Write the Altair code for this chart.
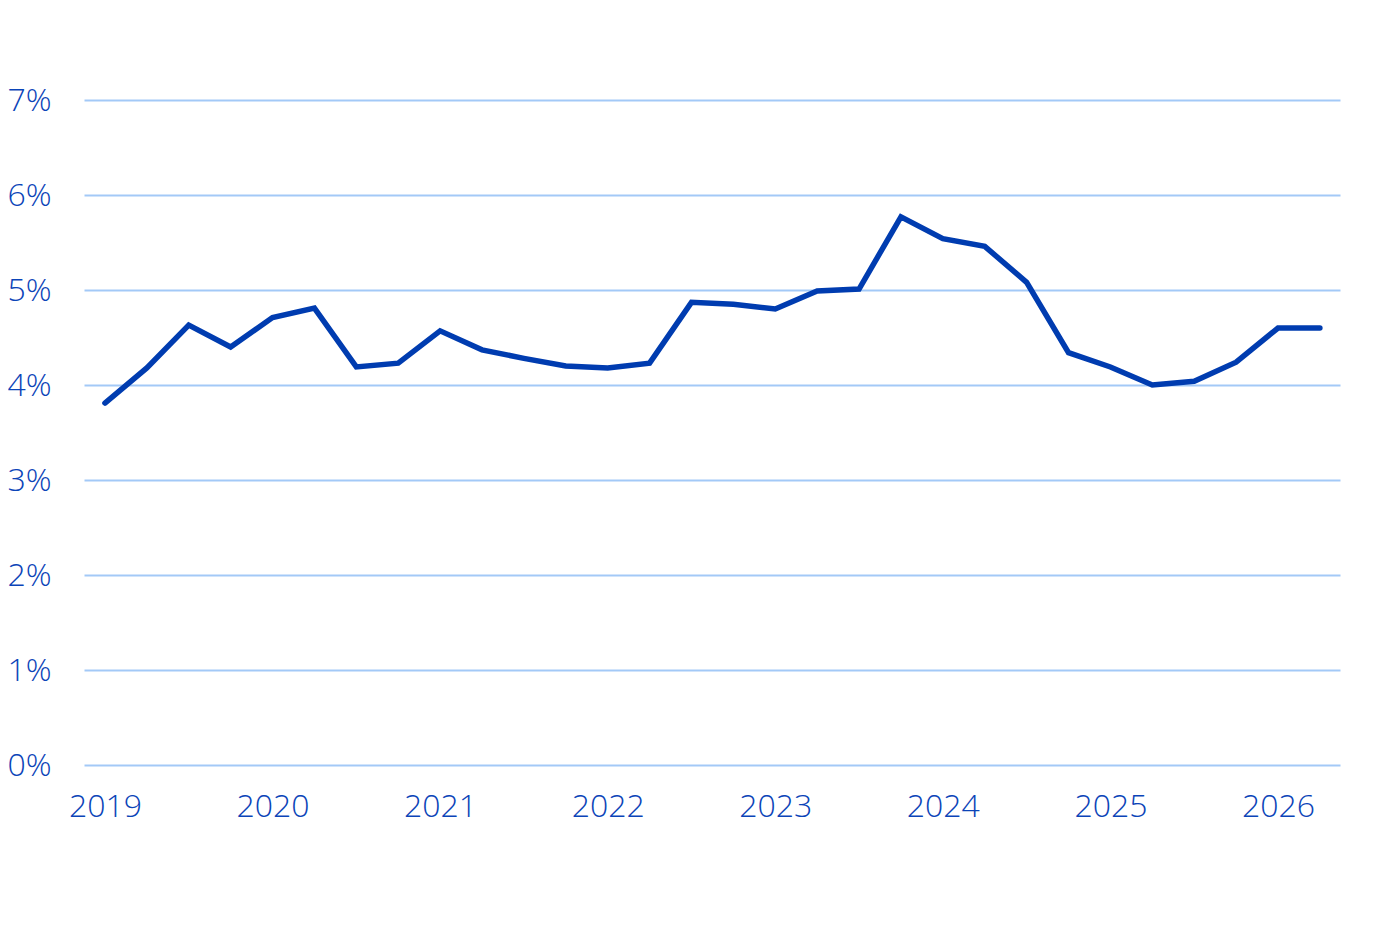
import altair as alt
import pandas as pd

quarters = [2019.0 + 0.25 * i for i in range(30)]
rates = [3.81, 4.18, 4.63, 4.40, 4.71, 4.81, 4.19, 4.23, 4.57, 4.37,
         4.28, 4.20, 4.18, 4.23, 4.87, 4.85, 4.80, 4.99, 5.01, 5.77,
         5.54, 5.46, 5.08, 4.34, 4.19, 4.00, 4.04, 4.24, 4.60, 4.60]
year_ticks = [2019, 2020, 2021, 2022, 2023, 2024, 2025, 2026]
pct_ticks = [0, 1, 2, 3, 4, 5, 6, 7]

df = pd.DataFrame({"t": quarters, "v": rates})

chart = alt.Chart(df).mark_line(
    color="#003cb0", strokeWidth=5.5, strokeCap="round", strokeJoin="miter"
).encode(
    x=alt.X("t:Q", scale=alt.Scale(domain=[2018.875, 2026.37], nice=False, zero=False),
            axis=alt.Axis(values=year_ticks, format="d", title=None, grid=False,
                          ticks=False, domain=False, labelPadding=26)),
    y=alt.Y("v:Q", scale=alt.Scale(domain=[0, 7], nice=False),
            axis=alt.Axis(values=pct_ticks, labelExpr="datum.value + '%'", title=None,
                          ticks=False, domain=False, labelPadding=33,
                          gridColor="#a3c9f7", gridWidth=2, gridOpacity=1)),
).properties(
    width=1256, height=665,
    padding={"left": 76, "top": 92, "right": 52, "bottom": 160},
    autosize=alt.AutoSizeParams(type="none"),
).configure_view(stroke=None).configure_axis(
    labelFont="Open Sans", labelFontSize=32, labelFontWeight=300,
    labelColor="#0b44b8", labelFlush=False
)

chart.save("out.html", embed_options={"renderer": "svg", "actions": False})
